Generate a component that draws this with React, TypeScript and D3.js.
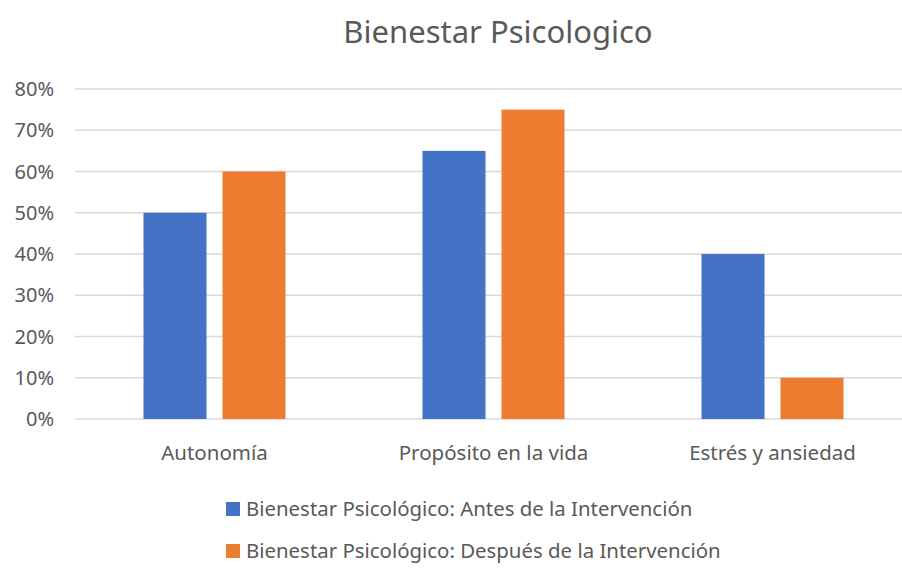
import React from 'react';
import * as d3 from 'd3';

// datos del gráfico
const categories = ['Autonomía', 'Propósito en la vida', 'Estrés y ansiedad'];
const seriesNames = [
  'Bienestar Psicológico: Antes de la Intervención',
  'Bienestar Psicológico: Después de la Intervención',
];
const antes = [0.5, 0.65, 0.4];
const despues = [0.6, 0.75, 0.1];
const yTicks = [0, 0.1, 0.2, 0.3, 0.4, 0.5, 0.6, 0.7, 0.8];
const colors = ['#4472C4', '#ED7D31'];

const W = 902;
const H = 569;
const FONT = '"Noto Sans", sans-serif';

const App: React.FC = () => {
  const left = 75;
  const right = 912;
  const top = 89;
  const bottom = 419;

  const x = d3.scaleBand<string>().domain(categories).range([left, right]).paddingInner(0).paddingOuter(0);
  const y = d3.scaleLinear().domain([0, 0.8]).range([bottom, top]);

  const barW = 63;
  const gap = 16;
  const series = [antes, despues];

  return (
    <svg width={W} height={H} style={{ position: 'absolute', left: 0, top: 0, background: '#fff' }}>
      <text x={498} y={43} textAnchor="middle" fontFamily={FONT} fontSize={31} fill="#595959">
        Bienestar Psicologico
      </text>

      {yTicks.map((t) => (
        <g key={t}>
          <line x1={left} x2={right} y1={y(t)} y2={y(t)} stroke="#D9D9D9" strokeWidth={1.5} />
          <text x={54} y={y(t) + 7} textAnchor="end" fontFamily={FONT} fontSize={20} fill="#595959">
            {d3.format('.0%')(t)}
          </text>
        </g>
      ))}

      {series.map((vals, si) =>
        vals.map((v, ci) => {
          const cx = (x(categories[ci]) as number) + x.bandwidth() / 2;
          const bx = si === 0 ? cx - gap / 2 - barW : cx + gap / 2;
          return (
            <rect key={`${si}-${ci}`} x={bx} y={y(v)} width={barW} height={y(0) - y(v)} fill={colors[si]} />
          );
        })
      )}

      {categories.map((c) => (
        <text
          key={c}
          x={(x(c) as number) + x.bandwidth() / 2}
          y={460}
          textAnchor="middle"
          fontFamily={FONT}
          fontSize={20.5}
          fill="#595959"
        >
          {c}
        </text>
      ))}

      {seriesNames.map((n, i) => (
        <g key={n} transform={`translate(226, ${502 + i * 42})`}>
          <rect x={0} y={0} width={14} height={14} fill={colors[i]} />
          <text x={20} y={14} fontFamily={FONT} fontSize={20.4} fill="#595959">
            {n}
          </text>
        </g>
      ))}
    </svg>
  );
};

export default App;
